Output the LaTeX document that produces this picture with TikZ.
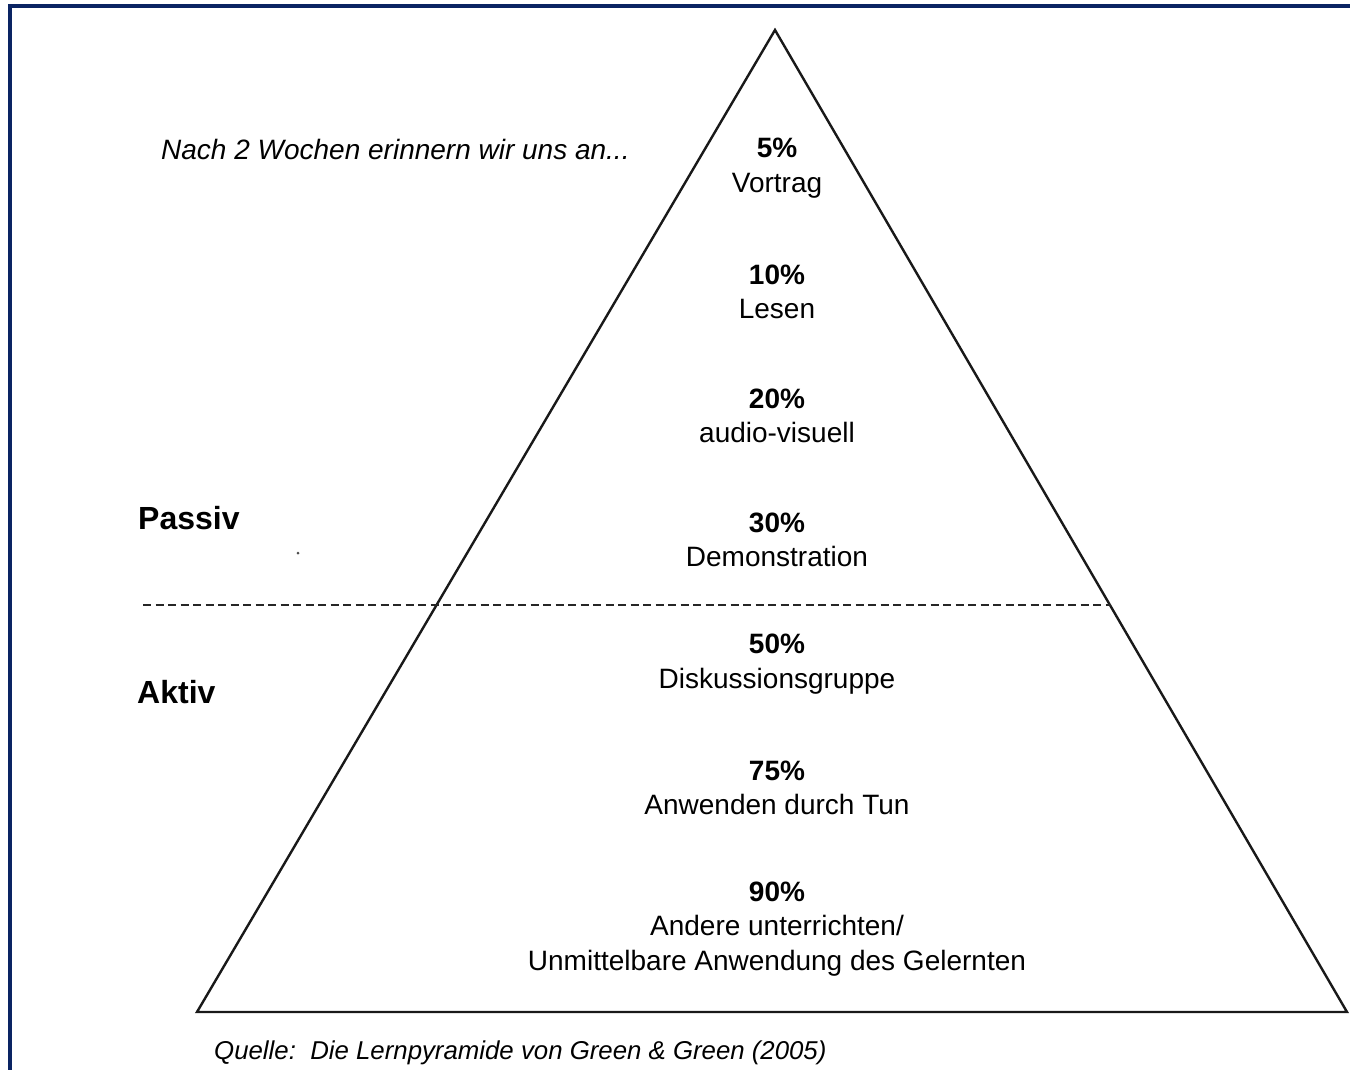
\documentclass[tikz,border=0pt]{standalone}
\usepackage{fontspec}
\setmainfont{Liberation Sans}
\begin{document}
\begin{tikzpicture}[x=1pt,y=-1pt,
  lbl/.style={align=center,inner sep=0pt,font=\fontsize{28}{34.5}\selectfont},
  side/.style={anchor=west,inner sep=0pt,font=\fontsize{32}{36}\selectfont\bfseries},
  note/.style={anchor=west,inner sep=0pt,font=\fontsize{28}{34}\selectfont\itshape},
  edge/.style={line width=2.4pt,black!90},
  sep/.style={line width=2pt,black!85,dash pattern=on 8pt off 4.5pt}]
\useasboundingbox (0,0) rectangle (1350,1070);
\fill[white] (0,0) rectangle (1350,1070);
% frame
\draw[line width=4pt,color={rgb,255:red,10;green,36;blue,99}] (10,1072) -- (10,6) -- (1352,6);
% pyramid
\coordinate (apex) at (775,30);
\coordinate (bl) at (197,1012);
\coordinate (br) at (1347,1012);
\draw[edge,line join=miter] (apex) -- (br) -- (bl) -- cycle;
% separator
\coordinate (sepL) at (143,605);
\coordinate (sepR) at (1111,605);
\draw[sep] (sepL) -- (sepR);
% stray dot
\fill[black!70] (298,553) circle (1.5);
% labels
\node[lbl] (l1) at (777,168) {\textbf{5\%}\\Vortrag};
\node[lbl] (l2) at (777,292) {\textbf{10\%}\\Lesen};
\node[lbl] (l3) at (777,416) {\textbf{20\%}\\audio-visuell};
\node[lbl] (l4) at (777,540) {\textbf{30\%}\\Demonstration};
\node[lbl] (l5) at (777,664) {\textbf{50\%}\\Diskussionsgruppe};
\node[lbl] (l6) at (777,788) {\textbf{75\%}\\Anwenden durch Tun};
\node[lbl] (l7) at (777,929) {\textbf{90\%}\\Andere unterrichten/\\Unmittelbare Anwendung des Gelernten};
\node[side] (passiv) at (138,518) {Passiv};
\node[side] (aktiv) at (137,692) {Aktiv};
\node[note] (nach) at (161,149) {Nach 2 Wochen erinnern wir uns an...};
\node[note,font=\fontsize{25.8}{30}\selectfont\itshape] (quelle) at (214,1053) {Quelle:\ \ Die Lernpyramide von Green \& Green (2005)};
\end{tikzpicture}
\end{document}
